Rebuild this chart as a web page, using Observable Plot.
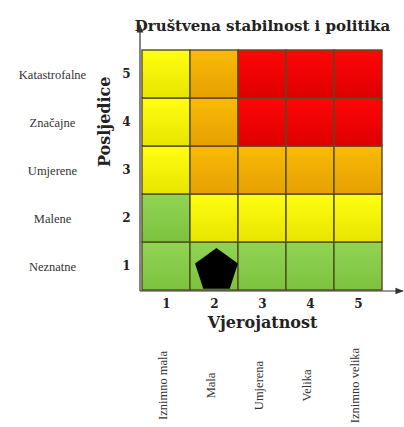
<!DOCTYPE html>
<html><head><meta charset="utf-8">
<script src="https://cdn.jsdelivr.net/npm/d3@7"></script>
<script src="https://cdn.jsdelivr.net/npm/@observablehq/plot@0.6"></script>
<style>body{margin:0;background:#fff}</style>
</head><body><div id="chart"></div>
<script>
const titleText = "Društvena stabilnost i politika";
const likelihood = [1, 2, 3, 4, 5];
const likelihoodLabels = ["Iznimno mala", "Mala", "Umjerena", "Velika", "Iznimno velika"];
const consequence = [1, 2, 3, 4, 5];
const consequenceLabels = ["Neznatne", "Malene", "Umjerene", "Značajne", "Katastrofalne"];
const xTitle = "Vjerojatnost";
const yTitle = "Posljedice";
// rows from consequence 1 (bottom) to 5 (top), columns likelihood 1..5
const riskRows = [
  ["G", "G", "G", "G", "G"],
  ["G", "Y", "Y", "Y", "Y"],
  ["Y", "O", "O", "O", "O"],
  ["Y", "O", "R", "R", "R"],
  ["Y", "O", "R", "R", "R"]
];
const marker = [{x: 2, y: 1}];

const cells = [];
riskRows.forEach((row, i) => row.forEach((lvl, j) => cells.push({x: likelihood[j], y: consequence[i], lvl})));
const gradId = {G: "url(#gG)", Y: "url(#gY)", O: "url(#gO)", R: "url(#gR)"};

const font = "'DejaVu Serif', serif";
const smallFont = "'Liberation Serif', 'DejaVu Serif', serif";
const pentagon = {
  draw(ctx, size) {
    const r = Math.sqrt(size) * 0.62;
    for (let k = 0; k < 5; k++) {
      const a = -Math.PI / 2 + k * 2 * Math.PI / 5;
      const px = r * Math.cos(a), py = r * Math.sin(a);
      k ? ctx.lineTo(px, py) : ctx.moveTo(px, py);
    }
    ctx.closePath();
  }
};

const plot = Plot.plot({
  width: 404, height: 427,
  marginLeft: 140, marginRight: 20, marginTop: 48, marginBottom: 136,
  style: {fontFamily: font, background: "#fff"},
  x: {type: "band", domain: likelihood, padding: 0, axis: null},
  y: {type: "band", domain: consequence.slice().reverse(), padding: 0, axis: null},
  marks: [
    Plot.cell(cells, {x: "x", y: "y", fill: d => gradId[d.lvl], stroke: "#544c22", strokeWidth: 1.4}),
    Plot.dot(marker, {x: "x", y: "y", symbol: pentagon, r: 20.5, fill: "#000", stroke: "none", dx: 2, dy: 4}),
    Plot.axisY({anchor: "left", tickSize: 0, tickPadding: 10, fontSize: 12, fontWeight: "bold", fill: "#222", label: null, fontFamily: font}),
    Plot.text(consequence, {y: d => d, text: (d, i) => consequenceLabels[i], frameAnchor: "left", dx: -88, textAnchor: "middle", fontSize: 12.5, fill: "#333", fontFamily: smallFont}),
    Plot.text([yTitle], {frameAnchor: "left", rotate: -90, dx: -36, dy: -3, fontSize: 16, fontWeight: "bold", fill: "#222", fontFamily: font}),
    Plot.axisX({anchor: "bottom", tickSize: 0, tickPadding: 8, fontSize: 12, fontWeight: "bold", fill: "#222", label: null, fontFamily: font}),
    Plot.text([xTitle], {frameAnchor: "bottom", dy: 36, fontSize: 16, fontWeight: "bold", fill: "#222", fontFamily: font}),
    Plot.text(likelihood, {x: d => d, text: (d, i) => likelihoodLabels[i], frameAnchor: "bottom", rotate: -90, dy: 94, fontSize: 12.5, fill: "#333", fontFamily: smallFont}),
    Plot.text([titleText], {frameAnchor: "top", dy: -28, fontSize: 15, fontWeight: "bold", fill: "#222", fontFamily: font})
  ]
});

// gradients
const svg = d3.select(plot);
const defs = svg.insert("defs", ":first-child");
const grads = {gG: ["#92d455", "#7cc23e"], gY: ["#ffff10", "#e8e400"], gO: ["#f9bb06", "#e6a000"], gR: ["#ff0606", "#de0000"]};
for (const [id, [a, b]] of Object.entries(grads)) {
  const g = defs.append("linearGradient").attr("id", id).attr("x1", 0).attr("y1", 0).attr("x2", 0).attr("y2", 1);
  g.append("stop").attr("offset", "0%").attr("stop-color", a);
  g.append("stop").attr("offset", "100%").attr("stop-color", b);
}
const mk = defs.append("marker").attr("id", "arr").attr("viewBox", "0 0 10 10").attr("refX", 9).attr("refY", 5)
  .attr("markerWidth", 7).attr("markerHeight", 7).attr("orient", "auto-start-reverse");
mk.append("path").attr("d", "M0,1 L10,5 L0,9 Z").attr("fill", "#333");

// axis lines from scale ranges
const xr = plot.scale("x").range, yr = plot.scale("y").range;
const x0 = Math.min(...xr), x1 = Math.max(...xr), y0 = Math.min(...yr), y1 = Math.max(...yr);
const g = svg.append("g").attr("stroke", "#333").attr("stroke-width", 1.2).attr("fill", "none");
g.append("line").attr("x1", x0).attr("x2", x0).attr("y1", y1).attr("y2", y0 - 23).attr("marker-end", "url(#arr)");
g.append("line").attr("x1", x0).attr("x2", x1 + 19).attr("y1", y1).attr("y2", y1).attr("marker-end", "url(#arr)");

document.getElementById("chart").appendChild(plot);
</script>
</body></html>
